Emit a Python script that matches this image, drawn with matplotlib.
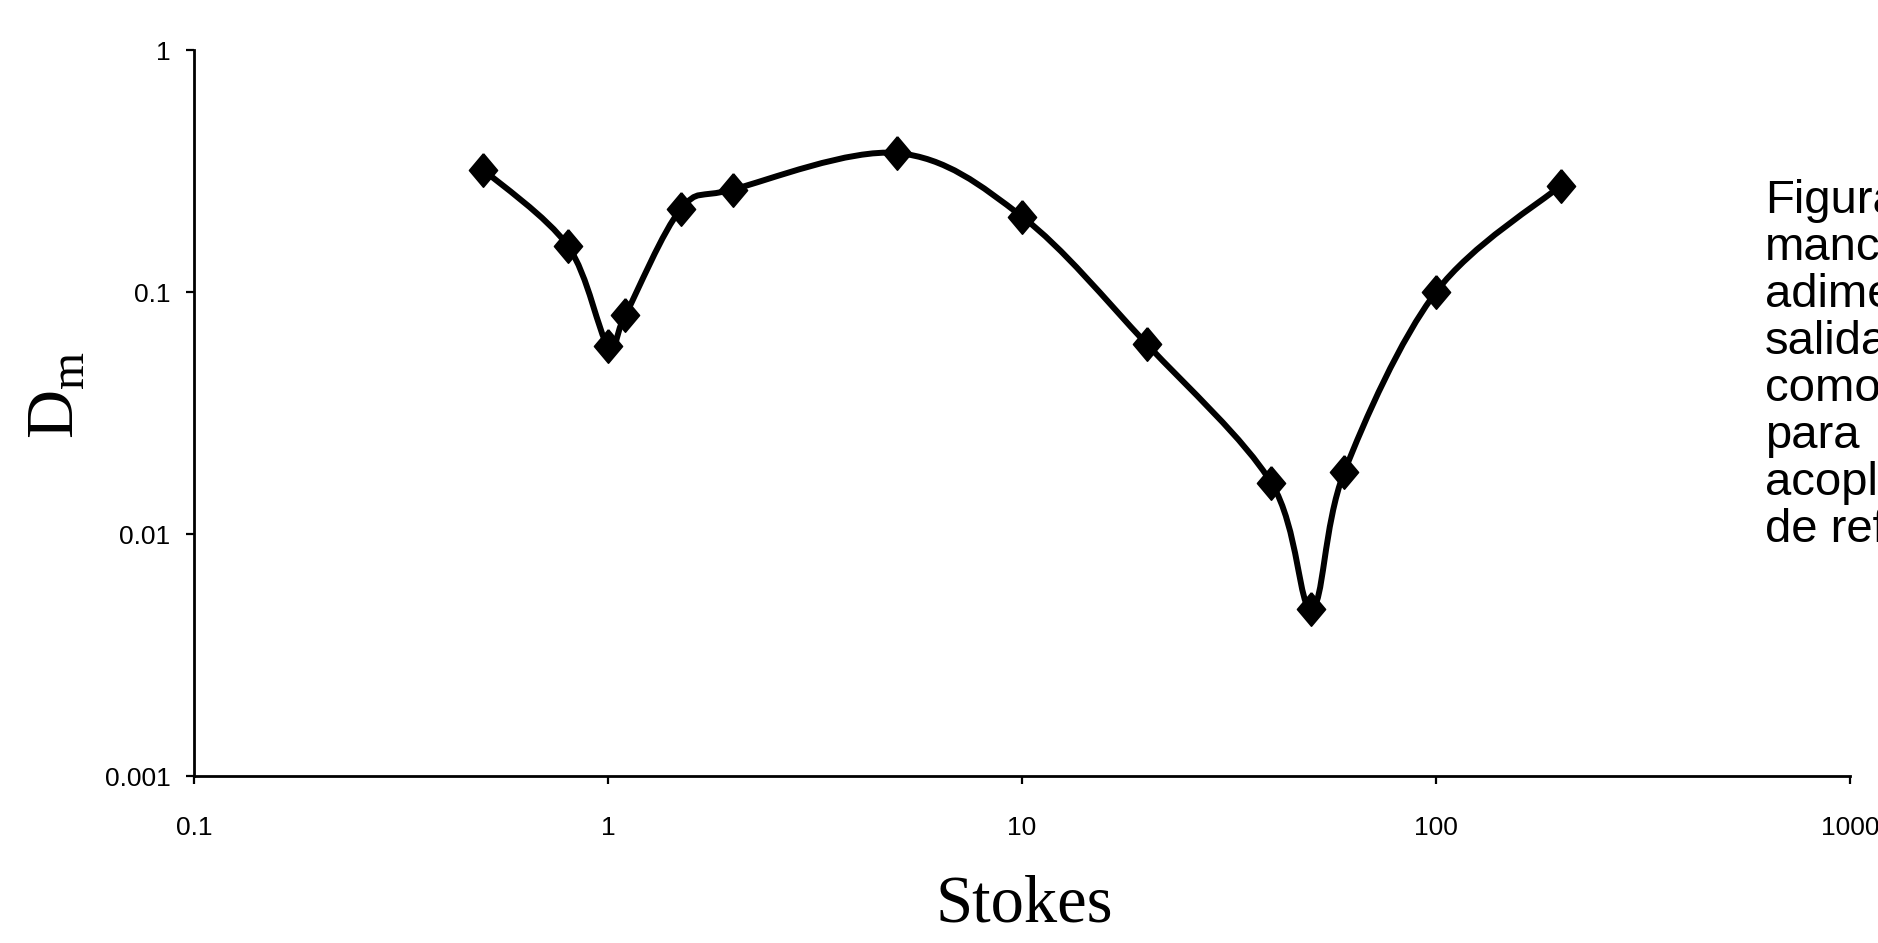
import numpy as np
import matplotlib
matplotlib.use("Agg")
import matplotlib.pyplot as plt
from matplotlib.path import Path
from matplotlib.patches import PathPatch
from matplotlib.ticker import FixedLocator, NullLocator

# ----- data ------------------------------------------------------------------
STOKES = [0.5, 0.8, 1.0, 1.1, 1.5, 2.0, 5.0, 10.0, 20.0, 40.0, 50.0, 60.0, 100.0, 200.0]
DM = [0.32, 0.155, 0.060, 0.080, 0.22, 0.265, 0.375, 0.205, 0.061, 0.0163, 0.0049, 0.018, 0.10, 0.275]

X_TICKS = [0.1, 1, 10, 100, 1000]
X_LABELS = ["0.1", "1", "10", "100", "1000"]
Y_TICKS = [0.001, 0.01, 0.1, 1]
Y_LABELS = ["0.001", "0.01", "0.1", "1"]

# caption runs off the right edge of the page in the original
CAPTION = ["Figura", "mancha", "adimensional", "salida", "como", "para", "acoplamiento", "de referencia"]

plt.rcParams["mathtext.fontset"] = "custom"
plt.rcParams["mathtext.rm"] = "Liberation Serif"


def smooth_path(x, y):
    # Excel-style smoothed line: cubic Bezier through the points, built in log space
    p = np.column_stack([np.log10(x), np.log10(y)])
    n = len(p)
    verts, codes = [p[0]], [Path.MOVETO]
    for i in range(n - 1):
        p0, p1, p2, p3 = p[max(i - 1, 0)], p[i], p[i + 1], p[min(i + 2, n - 1)]
        verts += [p1 + (p2 - p0) / 6, p2 - (p3 - p1) / 6, p2]
        codes += [Path.CURVE4] * 3
    return Path(10 ** np.array(verts), codes)


def main():
    fig = plt.figure(figsize=(18.78, 9.43), dpi=100)
    ax = fig.add_axes([194 / 1878, 1 - 776 / 943, (1850 - 194) / 1878, (776 - 50) / 943])
    ax.set_xscale("log"); ax.set_yscale("log")
    ax.set_xlim(0.1, 1000); ax.set_ylim(0.001, 1)

    ax.add_patch(PathPatch(smooth_path(STOKES, DM), fill=False, lw=4.3, edgecolor="black",
                           capstyle="round", joinstyle="round", transform=ax.transData))
    tall_diamond = [(0, 0.5), (0.42, 0), (0, -0.5), (-0.42, 0), (0, 0.5)]
    ax.plot(STOKES, DM, ls="none", marker=tall_diamond, ms=24, mew=1.2, color="black", mec="black")

    for s in ("top", "right"):
        ax.spines[s].set_visible(False)
    for s in ("left", "bottom"):
        ax.spines[s].set_linewidth(2)

    ax.xaxis.set_major_locator(FixedLocator(X_TICKS)); ax.xaxis.set_minor_locator(NullLocator())
    ax.yaxis.set_major_locator(FixedLocator(Y_TICKS)); ax.yaxis.set_minor_locator(NullLocator())
    ax.set_xticklabels(X_LABELS, family="Liberation Sans", fontsize=19)
    ax.set_yticklabels(Y_LABELS, family="Liberation Sans", fontsize=19)
    ax.tick_params(axis="both", direction="out", length=6, width=1.6, color="black")
    ax.tick_params(axis="x", pad=23)
    ax.tick_params(axis="y", pad=11)

    fig.text(1024 / 1878, 1 - 922 / 943, "Stokes", family="Liberation Serif", fontsize=48,
             ha="center", va="baseline")
    fig.text(57 / 1878, 1 - 395 / 943, r"D$_\mathrm{m}$", family="Liberation Serif", fontsize=49,
             rotation=90, ha="center", va="center")

    for i, line in enumerate(CAPTION):
        fig.text(1765 / 1878, 1 - (213 + i * 47) / 943, line, family="Liberation Sans",
                 fontsize=34, ha="left", va="baseline")

    fig.savefig("out.png", dpi=100)


if __name__ == "__main__":
    main()
